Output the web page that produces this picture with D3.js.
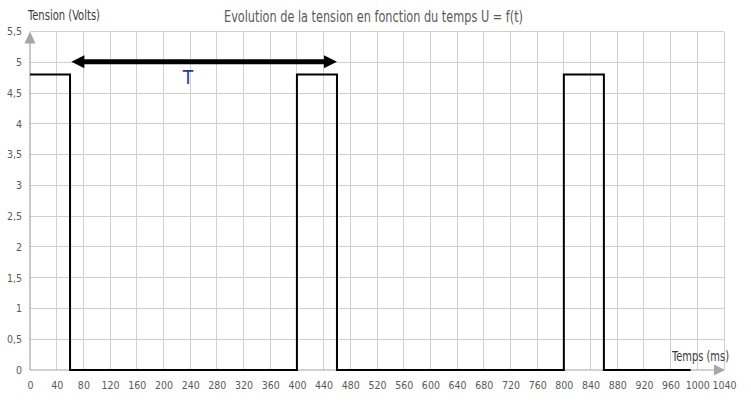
<!DOCTYPE html>
<html>
<head>
<meta charset="utf-8">
<script src="https://cdn.jsdelivr.net/npm/d3@7"></script>
<style>
  html, body { margin: 0; padding: 0; background: #ffffff; }
  svg { display: block; }
  text { font-family: "Liberation Sans Narrow", "DejaVu Sans Condensed", "Liberation Sans", sans-serif; }
</style>
</head>
<body>
<svg id="chart" width="751" height="404"></svg>
<script>
// ---- Data ----
const xTicks = [0, 40, 80, 120, 160, 200, 240, 280, 320, 360, 400, 440, 480, 520, 560, 600, 640, 680, 720, 760, 800, 840, 880, 920, 960, 1000, 1040];
const yTicks = [0, 0.5, 1, 1.5, 2, 2.5, 3, 3.5, 4, 4.5, 5, 5.5];
// step signal U(t): value holds from each time until the next
const timeMs = [0, 60, 400, 460, 800, 860, 990];
const voltage = [4.8, 0, 4.8, 0, 4.8, 0, 0];
// period arrow "T"
const periodStart = [62];
const periodEnd = [460];
const periodLevel = [5];
const titleText = "Evolution de la tension en fonction du temps U = f(t)";
const yAxisTitle = "Tension (Volts)";
const xAxisTitle = "Temps (ms)";
const periodLabel = "T";

// ---- Chart ----
const svg = d3.select("#chart");
const x = d3.scaleLinear().domain([0, 1040]).range([30, 724]);
const y = d3.scaleLinear().domain([0, 5.5]).range([370, 31.5]);
const fmt = d => String(d).replace(".", ",");
const tickFont = "'Liberation Sans Narrow', 'DejaVu Sans Condensed', sans-serif";

// gridlines
const grid = svg.append("g").attr("shape-rendering", "crispEdges");
grid.selectAll(".vg").data(xTicks.slice(1)).join("line")
  .attr("x1", d => x(d)).attr("x2", d => x(d))
  .attr("y1", y(0)).attr("y2", y(5.5))
  .attr("stroke", "#d0d0d0").attr("stroke-width", 1);
grid.selectAll(".hg").data(yTicks.slice(1)).join("line")
  .attr("x1", x(0)).attr("x2", x(1040))
  .attr("y1", d => y(d)).attr("y2", d => y(d))
  .attr("stroke", "#d0d0d0").attr("stroke-width", 1);

// axes via d3 axis generators (labels)
const xAxis = svg.append("g").attr("transform", `translate(0,${y(0)})`)
  .call(d3.axisBottom(x).tickValues(xTicks).tickSize(0).tickPadding(12).tickFormat(d => d));
xAxis.select(".domain").remove();
xAxis.selectAll("text").attr("font-size", 10.5).attr("fill", "#595959").attr("font-family", tickFont);

const yAxis = svg.append("g").attr("transform", `translate(${x(0)},0)`)
  .call(d3.axisLeft(y).tickValues(yTicks).tickSize(0).tickPadding(8).tickFormat(fmt));
yAxis.select(".domain").remove();
yAxis.selectAll("text").attr("font-size", 10.5).attr("fill", "#595959").attr("font-family", tickFont);

// axis lines with arrowheads
svg.append("line").attr("x1", x(0)).attr("x2", x(1040) - 8)
  .attr("y1", y(0)).attr("y2", y(0)).attr("stroke", "#a6a6a6").attr("stroke-width", 1.2);
svg.append("path")
  .attr("d", `M${x(1040) + 1},${y(0)} L${x(1040) - 10},${y(0) - 5.5} L${x(1040) - 10},${y(0) + 5.5} Z`)
  .attr("fill", "#a6a6a6");
svg.append("line").attr("x1", x(0)).attr("x2", x(0))
  .attr("y1", y(0)).attr("y2", y(5.5) + 8).attr("stroke", "#a6a6a6").attr("stroke-width", 1.2);
svg.append("path")
  .attr("d", `M${x(0)},${y(5.5)} L${x(0) - 5.5},${y(5.5) + 12} L${x(0) + 5.5},${y(5.5) + 12} Z`)
  .attr("fill", "#a6a6a6");

// signal
const pts = timeMs.map((t, i) => [t, voltage[i]]);
const line = d3.line().x(d => x(d[0])).y(d => y(d[1])).curve(d3.curveStepAfter);
svg.append("path").datum(pts).attr("d", line)
  .attr("fill", "none").attr("stroke", "#000").attr("stroke-width", 2)
  .attr("stroke-linejoin", "miter");

// period double arrow
const ax1 = x(periodStart[0]), ax2 = x(periodEnd[0]), ay = y(periodLevel[0]) - 0.5;
const hl = 13, hw = 6.5;
svg.append("line").attr("x1", ax1 + hl - 1).attr("x2", ax2 - hl + 1)
  .attr("y1", ay).attr("y2", ay).attr("stroke", "#000").attr("stroke-width", 5);
svg.append("path").attr("d", `M${ax1},${ay} L${ax1 + hl},${ay - hw} L${ax1 + hl},${ay + hw} Z`).attr("fill", "#000");
svg.append("path").attr("d", `M${ax2},${ay} L${ax2 - hl},${ay - hw} L${ax2 - hl},${ay + hw} Z`).attr("fill", "#000");
svg.append("text").attr("x", 188).attr("y", 84).attr("text-anchor", "middle")
  .attr("font-family", "'Liberation Sans', sans-serif")
  .attr("font-size", 19).attr("fill", "#1f3c8c").text(periodLabel);

// titles
svg.append("text").attr("x", 224).attr("y", 22)
  .attr("font-size", 16).attr("fill", "#595959")
  .attr("textLength", 299).attr("lengthAdjust", "spacingAndGlyphs").text(titleText);
svg.append("text").attr("x", 28).attr("y", 20)
  .attr("font-size", 14).attr("fill", "#3a3a3a")
  .attr("textLength", 72).attr("lengthAdjust", "spacingAndGlyphs").text(yAxisTitle);
svg.append("text").attr("x", 672).attr("y", 361)
  .attr("font-size", 14).attr("fill", "#3a3a3a")
  .attr("textLength", 57).attr("lengthAdjust", "spacingAndGlyphs").text(xAxisTitle);
</script>
</body>
</html>
